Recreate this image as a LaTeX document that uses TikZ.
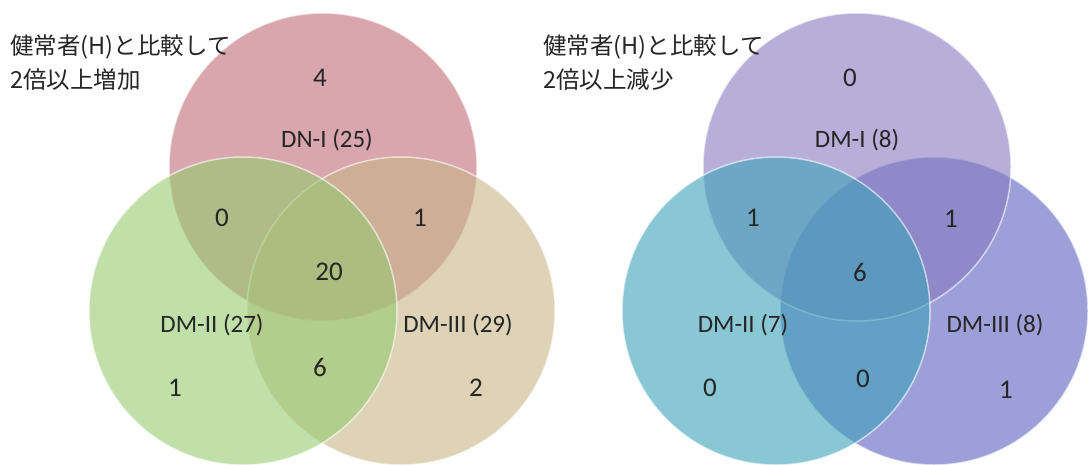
\documentclass[tikz,border=0pt]{standalone}
\usepackage{fontspec}
\setmainfont{Carlito}
\newfontfamily\jpfont{Noto Sans CJK JP}
\definecolor{txt}{HTML}{262626}
\definecolor{cred}{RGB}{190,108,118}
\definecolor{cgreen}{RGB}{150,202,112}
\definecolor{ctan}{RGB}{200,180,136}
\definecolor{cpurple}{RGB}{135,122,193}
\definecolor{ccyan}{RGB}{60,162,185}
\definecolor{cblue}{RGB}{92,98,190}
\begin{document}
\begin{tikzpicture}[x=1pt,y=-1pt,
  venn/.style={circle, inner sep=0pt, minimum size=308pt, fill opacity=0.6, draw=white, draw opacity=0.6, line width=1.5pt},
  num/.style={font=\fontsize{27}{30}\selectfont, text=txt, inner sep=0pt},
  lbl/.style={font=\fontsize{25}{28}\selectfont, text=txt, inner sep=0pt},
  ttl/.style={font=\jpfont\fontsize{23.5}{30}\selectfont, text=txt, anchor=west, inner sep=0pt}]
\useasboundingbox (0,0) rectangle (1091,464);
\fill[white] (0,0) rectangle (1091,464);
% left diagram
\node[venn, fill=cred]   (L1) at (323,167) {};
\node[venn, fill=ctan]   (L3) at (401,311) {};
\node[venn, fill=cgreen] (L2) at (243,311) {};
% right diagram
\node[venn, fill=cblue]   (R3) at (934,311) {};
\node[venn, fill=cpurple] (R1) at (857,167) {};
\node[venn, fill=ccyan]   (R2) at (776,311) {};
% titles
\node[ttl] (tL1) at (10,47) {健常者(H)と比較して};
\node[ttl] (tL2) at (10,80) {2倍以上増加};
\node[ttl] (tR1) at (543,47) {健常者(H)と比較して};
\node[ttl] (tR2) at (543,80) {2倍以上減少};
% left labels
\node[num] (l4)  at (320,78)  {4};
\node[lbl] (lA)  at (327,140) {DN-I (25)};
\node[num] (l0)  at (222,218) {0};
\node[num] (l1a) at (420,218) {1};
\node[num] (l20) at (329,272) {20};
\node[lbl] (lB)  at (212,325) {DM-II (27)};
\node[lbl] (lC)  at (458,325) {DM-III (29)};
\node[num] (l6)  at (320,367) {6};
\node[num] (l1b) at (175,388) {1};
\node[num] (l2)  at (476,388) {2};
% right labels
\node[num] (r0a) at (850,78)  {0};
\node[lbl] (rA)  at (857,140) {DM-I (8)};
\node[num] (r1a) at (753,218) {1};
\node[num] (r1b) at (951,219) {1};
\node[num] (r6)  at (860,272) {6};
\node[lbl] (rB)  at (743,325) {DM-II (7)};
\node[lbl] (rC)  at (995,325) {DM-III (8)};
\node[num] (r0b) at (710,388) {0};
\node[num] (r0c) at (863,379) {0};
\node[num] (r1c) at (1006,390) {1};
\end{tikzpicture}
\end{document}
